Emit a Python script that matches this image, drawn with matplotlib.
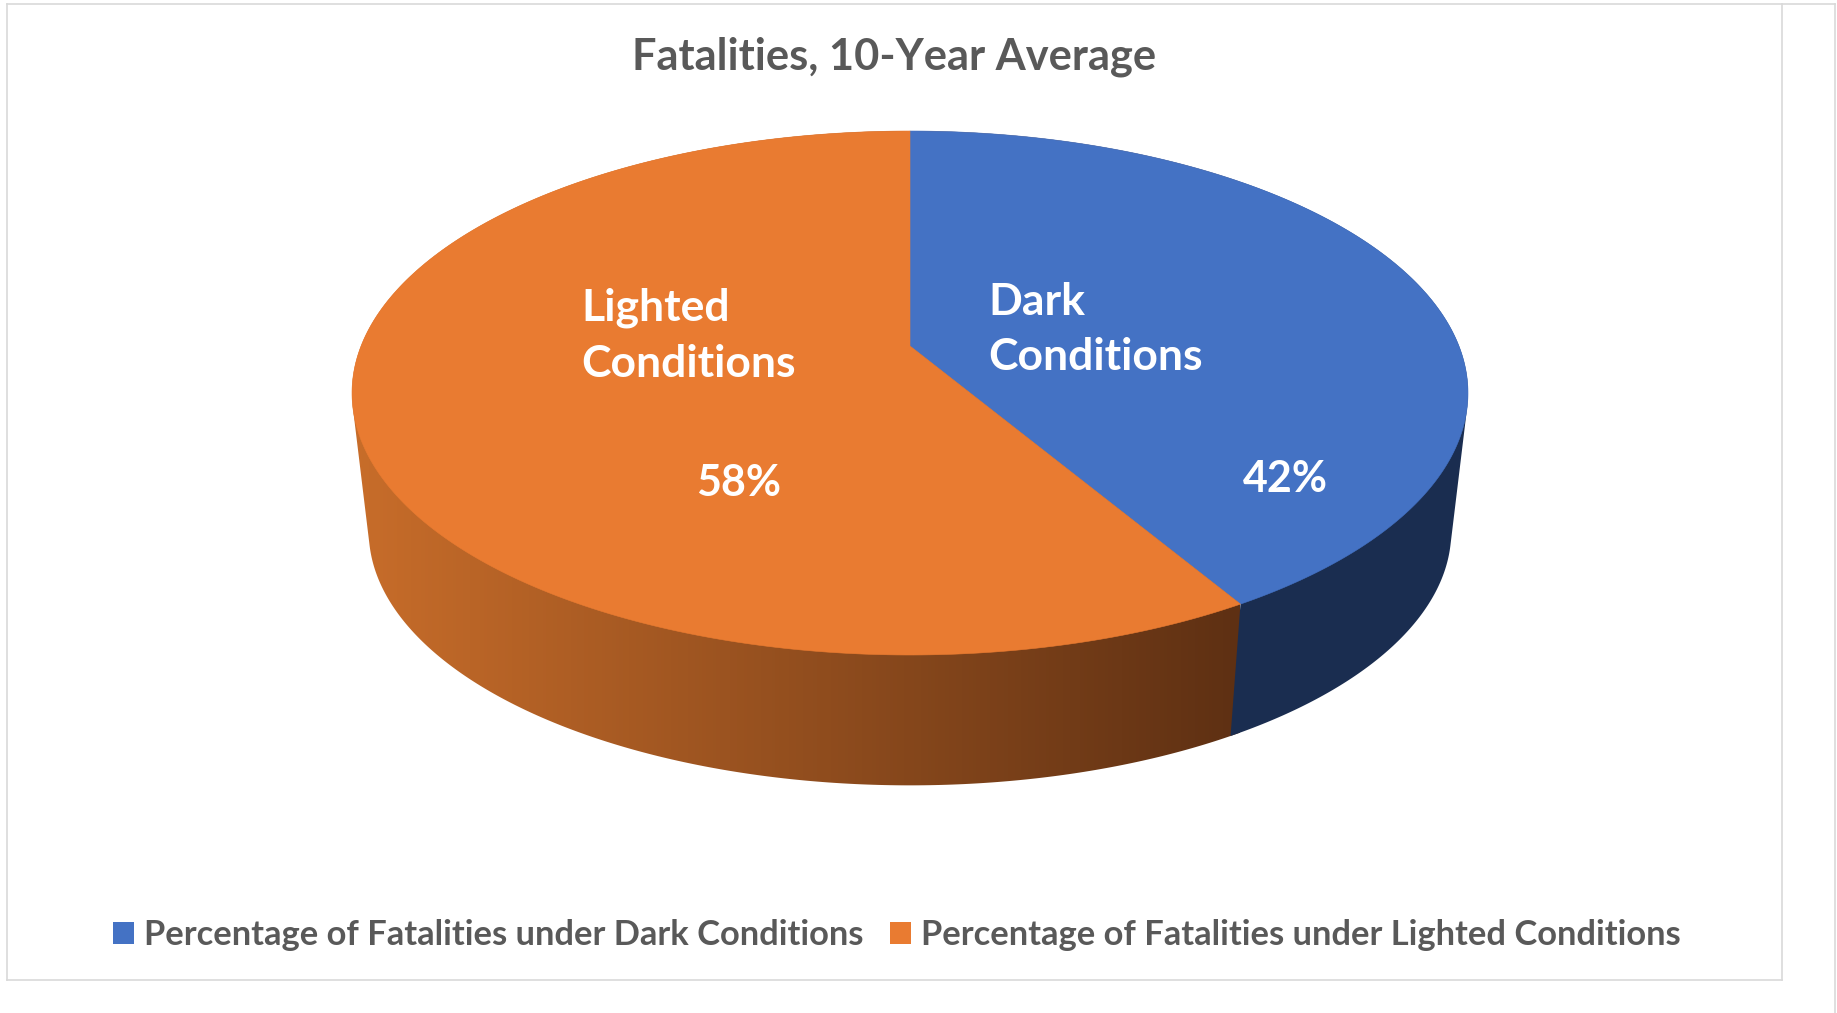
import numpy as np
import matplotlib
matplotlib.use("Agg")
import matplotlib.pyplot as plt
from matplotlib.colors import LinearSegmentedColormap
from matplotlib.patches import Patch, Polygon

plt.rcParams['font.family'] = ['Lato', 'DejaVu Sans']

# data
categories = ["Dark\nConditions", "Lighted\nConditions"]
shares = [41.5, 58.5]
percent_labels = ["42%", "58%"]
legend_labels = ["Percentage of Fatalities under Dark Conditions",
                 "Percentage of Fatalities under Lighted Conditions"]
title = "Fatalities, 10-Year Average"

BLUE = "#4472C4"
ORANGE = "#E97B31"
NAVY = "#1A2D50"
GREY = "#595959"
LINE = "#D9D9D9"

W, H = 1837, 1013

# perspective of the disc, in pixels
CX, APEX_Y = 910.0, 346.0
TOP_Y, BOTTOM_Y = 131.0, 655.0
HALF_W = 558.0
VANISH_Y, WALL_SCALE = 5000.0, 0.97

c = ((2 * APEX_Y) - (TOP_Y + BOTTOM_Y)) / (TOP_Y - BOTTOM_Y)
a = TOP_Y * (1 + c) - APEX_Y
k = HALF_W * np.sqrt(1 - c ** 2)


def rim(theta):
    # theta is clockwise from 12 o'clock
    x, y = np.sin(theta), np.cos(theta)
    d = 1 + c * y
    return np.column_stack([CX + k * x / d, (APEX_Y + a * y) / d])


def lower(pts):
    out = pts.copy()
    out[:, 0] = CX + (pts[:, 0] - CX) * WALL_SCALE
    out[:, 1] = VANISH_Y + (pts[:, 1] - VANISH_Y) * WALL_SCALE
    return out


def hull(pts):
    pts = sorted(map(tuple, pts))

    def half(seq):
        res = []
        for p in seq:
            while len(res) > 1:
                (x1, y1), (x2, y2) = res[-2], res[-1]
                if (x2 - x1) * (p[1] - y1) - (y2 - y1) * (p[0] - x1) <= 0:
                    res.pop()
                else:
                    break
            res.append(p)
        return res[:-1]

    return np.array(half(pts) + half(pts[::-1]))


fig = plt.figure(figsize=(W / 100, H / 100), dpi=100, facecolor="white")
ax = fig.add_axes([0, 0, 1, 1])

# slice angles from the values
edges = np.cumsum([0] + shares) / sum(shares) * 2 * np.pi
split = edges[1]

# wall: orange gradient over the whole silhouette, navy past the split
circle = rim(np.linspace(0, 2 * np.pi, 720))
outline = hull(np.vstack([circle, lower(circle)]))
wall_cmap = LinearSegmentedColormap.from_list("wall", ["#C86D2A", "#5E3013"])
grad = ax.imshow(np.linspace(0, 1, 256)[None, :], cmap=wall_cmap, aspect="auto",
                 extent=(352, 1240, H, 0), zorder=1)
grad.set_clip_path(Polygon(outline, transform=ax.transData))

p_split = rim(np.array([split]))[0]
q_split = lower(rim(np.array([split])))[0]
navy = Polygon(outline, facecolor=NAVY, edgecolor="none", zorder=2)
ax.add_patch(navy)
navy.set_clip_path(Polygon([q_split, p_split, (p_split[0], 0), (W, 0), (W, H), (q_split[0], H)],
                           transform=ax.transData))

# top face
for start, end, col in zip(edges[:-1], edges[1:], [BLUE, ORANGE]):
    arc = rim(np.linspace(start, end, 300))
    ax.add_patch(Polygon(np.vstack([[CX, APEX_Y], arc]), facecolor=col,
                         edgecolor=col, linewidth=0.4, zorder=3))

# labels on the slices
ax.text(988, 329.5, categories[0], color="white", fontsize=32, fontweight="bold",
        ha="left", va="center", linespacing=1.47, zorder=4)
ax.text(581, 335.5, categories[1], color="white", fontsize=32, fontweight="bold",
        ha="left", va="center", linespacing=1.47, zorder=4)
ax.text(1285, 479, percent_labels[0], color="white", fontsize=31, fontweight="bold",
        ha="center", va="center", zorder=4)
ax.text(739, 483, percent_labels[1], color="white", fontsize=31, fontweight="bold",
        ha="center", va="center", zorder=4)

ax.text(894, 57, title, color=GREY, fontsize=31.2, fontweight="bold",
        ha="center", va="center", zorder=4)

# chart frame, as in the screenshot
ax.plot([7, 7], [4, 980], color=LINE, lw=1.2, zorder=0)
ax.plot([1782, 1782], [4, 980], color=LINE, lw=1.2, zorder=0)
ax.plot([1835, 1835], [4, H], color=LINE, lw=1.2, zorder=0)
ax.plot([7, 1835], [4, 4], color=LINE, lw=1.2, zorder=0)
ax.plot([7, 1782], [980, 980], color=LINE, lw=1.2, zorder=0)

handles = [Patch(facecolor=BLUE), Patch(facecolor=ORANGE)]
ax.legend(handles, legend_labels, ncol=2, frameon=False, loc="center",
          bbox_to_anchor=(897 / W, 1 - 935 / H), bbox_transform=fig.transFigure,
          prop={"size": 24.8, "weight": "bold"}, labelcolor=GREY,
          handlelength=0.62, handleheight=0.62, handletextpad=0.3, columnspacing=0.75)

ax.set_xlim(0, W)
ax.set_ylim(H, 0)
ax.axis("off")

fig.savefig("out.png", dpi=100)
